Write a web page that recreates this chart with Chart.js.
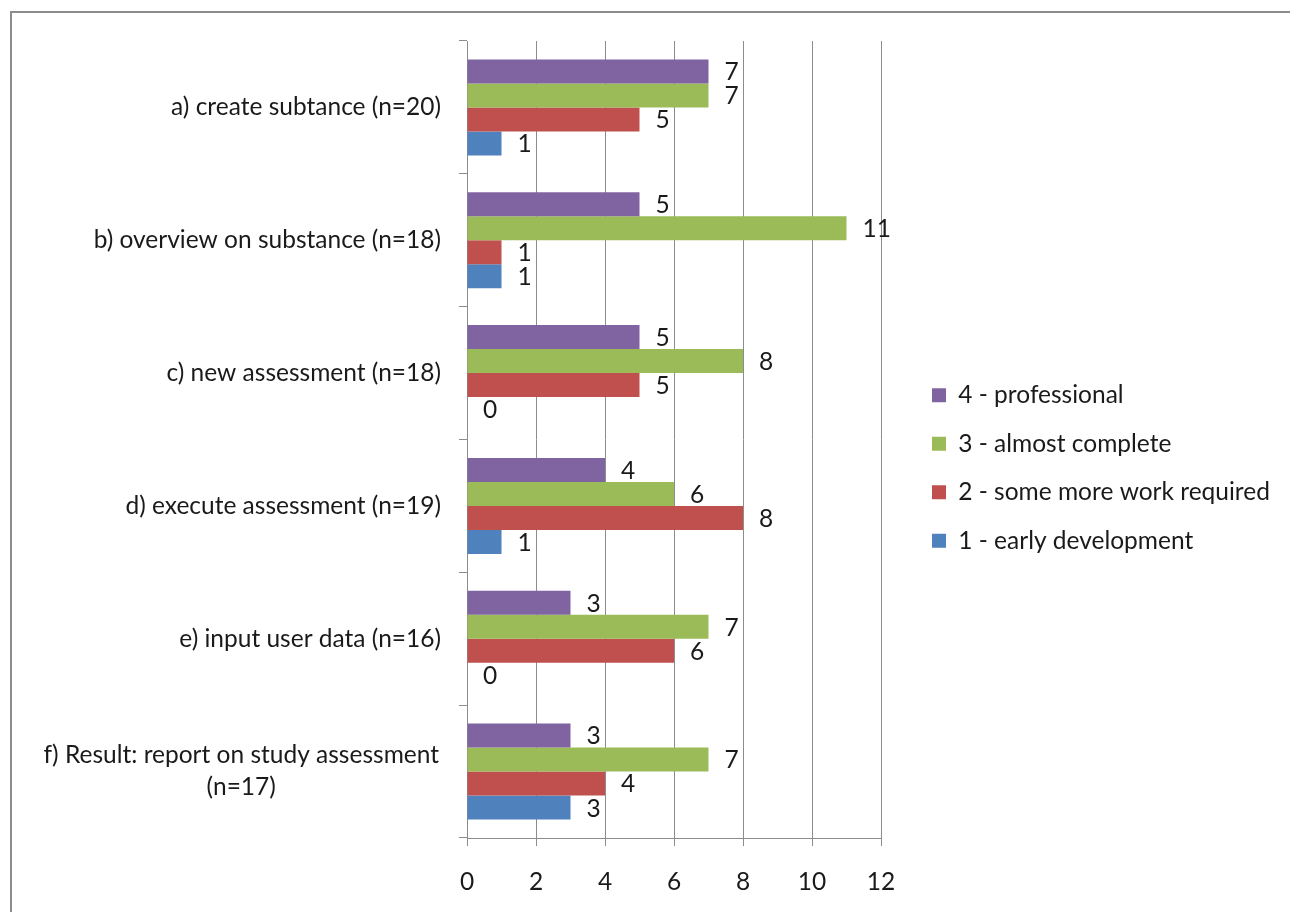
<!DOCTYPE html>
<html>
<head>
<meta charset="utf-8">
<script src="https://cdn.jsdelivr.net/npm/chart.js@4.4.1/dist/chart.umd.min.js"></script>
<style>
  html, body { margin: 0; padding: 0; background: #fff; width: 1290px; height: 912px; overflow: hidden; }
  #frame { position: absolute; left: 10px; top: 11px; width: 1310px; height: 940px; border: 2px solid #8c8c8c; box-sizing: border-box; }
  #c { position: absolute; left: 0; top: 0; }
</style>
</head>
<body>
<div id="frame"></div>
<canvas id="c" width="1290" height="912"></canvas>
<script>
const categories = [
  ['a) create subtance (n=20)'],
  ['b) overview on substance (n=18)'],
  ['c) new assessment (n=18)'],
  ['d) execute assessment (n=19)'],
  ['e) input user data (n=16)'],
  ['f) Result: report on study assessment', '(n=17)']
];
const seriesNames = ['4 - professional', '3 - almost complete', '2 - some more work required', '1 - early development'];
const professional   = [7, 5, 5, 4, 3, 3];
const almostComplete = [7, 11, 8, 6, 7, 7];
const someMoreWork   = [5, 1, 5, 8, 6, 4];
const earlyDev       = [1, 1, 0, 1, 0, 3];
const xTicks = [0, 2, 4, 6, 8, 10, 12];
const colors = ['#8064A2', '#9BBB59', '#C0504D', '#4F81BD'];

const FONT = 'Lato, "Open Sans", sans-serif';
const FS = 24.5;
const TEXT = '#1a1a1a';

const valueLabels = {
  id: 'valueLabels',
  afterDatasetsDraw(chart) {
    const ctx = chart.ctx;
    ctx.save();
    ctx.font = FS + 'px ' + FONT;
    ctx.fillStyle = TEXT;
    ctx.textAlign = 'left';
    ctx.textBaseline = 'middle';
    chart.data.datasets.forEach((ds, di) => {
      const meta = chart.getDatasetMeta(di);
      meta.data.forEach((bar, i) => {
        ctx.fillText(String(ds.data[i]), bar.x + 16, bar.y + 1);
      });
    });
    ctx.restore();
  }
};

const catLabels = {
  id: 'catLabels',
  afterDraw(chart) {
    const ctx = chart.ctx;
    const ys = chart.scales.y;
    ctx.save();
    ctx.font = FS + 'px ' + FONT;
    ctx.fillStyle = TEXT;
    ctx.textBaseline = 'middle';
    const right = chart.chartArea.left - 26;
    const lh = 32;
    categories.forEach((lines, i) => {
      const cy = ys.getPixelForValue(i);
      const maxW = Math.max(...lines.map(l => ctx.measureText(l).width));
      const startY = cy - (lines.length - 1) * lh / 2;
      lines.forEach((l, k) => {
        if (lines.length === 1) {
          ctx.textAlign = 'right';
          ctx.fillText(l, right, startY + k * lh);
        } else {
          ctx.textAlign = 'center';
          ctx.fillText(l, right - 2 - maxW / 2, startY + k * lh);
        }
      });
    });
    ctx.restore();
  }
};

const legendPlace = {
  id: 'legendPlace',
  beforeInit(chart) {
    const leg = chart.legend;
    const fit = leg.fit.bind(leg);
    leg.fit = function () { fit(); this.width = 409; };
  },
  afterLayout(chart) {
    const leg = chart.legend;
    leg.left += 27;
    leg.top = 359;
    leg.bottom = 912;
    leg.height = leg.bottom - leg.top;
    leg.width = leg.right - leg.left;
  }
};

new Chart(document.getElementById('c'), {
  type: 'bar',
  data: {
    labels: categories.map(l => l.join(' ')),
    datasets: [
      { label: seriesNames[0], data: professional,   backgroundColor: colors[0] },
      { label: seriesNames[1], data: almostComplete, backgroundColor: colors[1] },
      { label: seriesNames[2], data: someMoreWork,   backgroundColor: colors[2] },
      { label: seriesNames[3], data: earlyDev,       backgroundColor: colors[3] }
    ]
  },
  options: {
    indexAxis: 'y',
    responsive: false,
    animation: false,
    devicePixelRatio: 1,
    layout: { padding: { top: 41, left: 0, right: 0, bottom: 0 } },
    datasets: { bar: { categoryPercentage: 0.723, barPercentage: 1.0, borderWidth: 0 } },
    scales: {
      x: {
        min: 0, max: 12,
        afterBuildTicks(scale) { scale.ticks = xTicks.map(v => ({ value: v })); },
        afterFit(scale) { scale.height = 74; },
        grid: { color: '#8c8c8c', lineWidth: 1, drawTicks: true, tickLength: 8, tickColor: '#8c8c8c' },
        border: { display: true, color: '#8c8c8c', width: 1 },
        ticks: { font: { family: FONT, size: FS }, color: TEXT, padding: 21 }
      },
      y: {
        afterFit(scale) { scale.width = 467; },
        grid: { display: true, drawOnChartArea: false, drawTicks: true, tickLength: 8, color: '#8c8c8c', offset: true },
        border: { display: true, color: '#8c8c8c', width: 1 },
        ticks: { display: false }
      }
    },
    plugins: {
      tooltip: { enabled: false },
      legend: {
        position: 'right',
        align: 'start',
        labels: {
          font: { family: FONT, size: FS },
          color: TEXT,
          boxWidth: 14,
          boxHeight: 14,
          padding: 24
        }
      }
    }
  },
  plugins: [valueLabels, catLabels, legendPlace]
});
</script>
</body>
</html>
